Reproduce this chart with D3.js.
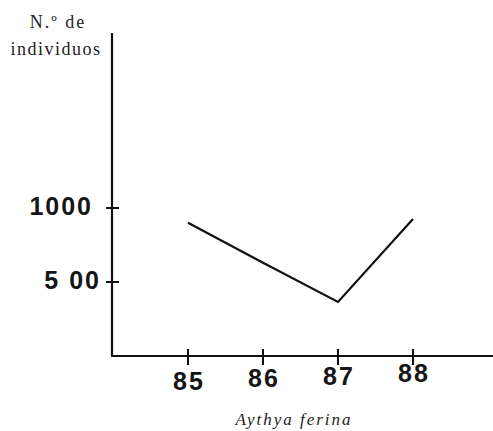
<!DOCTYPE html>
<html>
<head>
<meta charset="UTF-8">
<title>Aythya ferina</title>
<script src="https://cdn.jsdelivr.net/npm/d3@7"></script>
<style>
  body { margin: 0; background: #fff; }
  .tick-label { font-family: "Liberation Sans", Arial, sans-serif; font-weight: bold; font-size: 25px; fill: #151515; letter-spacing: 2px; }
  .serif { font-family: "Liberation Serif", "Times New Roman", serif; fill: #222; }
</style>
</head>
<body>
<div id="chart"></div>
<script>
// data
var years = [85, 86, 87, 88];
var individuos = [900, 630, 365, 925];
var yTicks = [500, 1000];
var yTickLabels = ["5 00", "1000"];

var width = 493, height = 431;

var svg = d3.select("#chart").append("svg")
    .attr("width", width)
    .attr("height", height);

// scales
var x = d3.scaleLinear().domain([84, 89]).range([113, 488]);
var y = d3.scaleLinear().domain([0, 1000]).range([356, 208]);

// axes lines
svg.append("line")
    .attr("x1", 112).attr("x2", 112)
    .attr("y1", 33).attr("y2", y(0))
    .attr("stroke", "#111").attr("stroke-width", 2.2);
svg.append("line")
    .attr("x1", 111).attr("x2", width)
    .attr("y1", y(0)).attr("y2", y(0))
    .attr("stroke", "#111").attr("stroke-width", 2.2);

// x ticks
svg.selectAll(".xtick").data(years).enter()
    .append("line")
    .attr("x1", function (d) { return x(d); })
    .attr("x2", function (d) { return x(d); })
    .attr("y1", y(0) - 7).attr("y2", y(0) + 9)
    .attr("stroke", "#111").attr("stroke-width", 2);

// labels drift upward a little, as in the original print
svg.selectAll(".xlab").data(years).enter()
    .append("text")
    .attr("class", "tick-label")
    .attr("x", function (d) { return x(d) + 1; })
    .attr("y", function (d, i) { return 390 - i * 2.7; })
    .attr("text-anchor", "middle")
    .text(function (d) { return d; });

// y ticks
svg.selectAll(".ytick").data(yTicks).enter()
    .append("line")
    .attr("x1", 106).attr("x2", 119)
    .attr("y1", function (d) { return y(d); })
    .attr("y2", function (d) { return y(d); })
    .attr("stroke", "#111").attr("stroke-width", 2);

svg.selectAll(".ylab").data(yTicks).enter()
    .append("text")
    .attr("class", "tick-label")
    .attr("x", function (d) { return d === 500 ? 101 : 93; })
    .attr("y", function (d) { return y(d) + 7; })
    .attr("text-anchor", "end")
    .text(function (d, i) { return yTickLabels[i]; });

// line
var line = d3.line()
    .x(function (d, i) { return x(years[i]); })
    .y(function (d) { return y(d); });

svg.append("path")
    .datum(individuos)
    .attr("d", line)
    .attr("fill", "none")
    .attr("stroke", "#111")
    .attr("stroke-width", 2.2);

// titles
svg.append("text").attr("class", "serif")
    .attr("x", 58).attr("y", 28)
    .attr("text-anchor", "middle")
    .style("font-size", "18px")
    .style("letter-spacing", "2px")
    .text("N.º  de");
svg.append("text").attr("class", "serif")
    .attr("x", 56).attr("y", 55)
    .attr("text-anchor", "middle")
    .style("font-size", "18px")
    .style("letter-spacing", "1.5px")
    .text("individuos");

svg.append("text").attr("class", "serif")
    .attr("x", 294).attr("y", 425)
    .attr("text-anchor", "middle")
    .style("font-size", "17px")
    .style("font-style", "italic")
    .style("letter-spacing", "2px")
    .text("Aythya ferina");
</script>
</body>
</html>
